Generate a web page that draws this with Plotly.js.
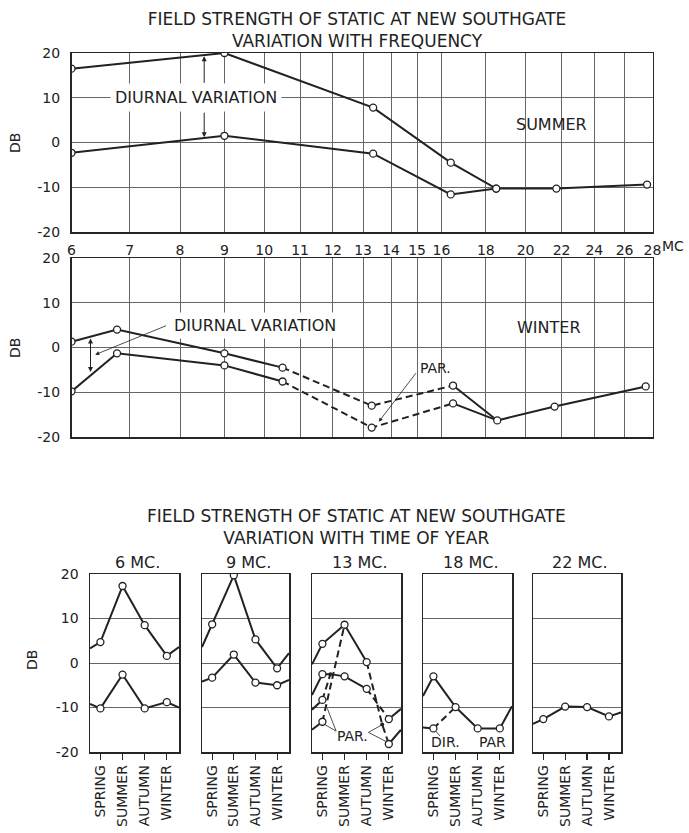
<!DOCTYPE html>
<html><head><meta charset="utf-8">
<script src="https://cdn.plot.ly/plotly-3.0.1.min.js"></script>
<style>html,body{margin:0;padding:0;background:#fff}</style>
</head><body><div id="chart" style="width:689px;height:833px"></div>
<script>
// ---------------- DATA ----------------
const freqTicks = [6,7,8,9,10,11,12,13,14,15,16,18,20,22,24,26,28];
const dbTicks = [-20,-10,0,10,20];
const dbTickText = ['-20','-10','0','10','20'];

// Summer, field strength vs frequency (Mc, dB)
const summerUpperFreq = [6, 9, 13.35, 16.4, 18.5, 21.7, 27.6];
const summerUpperDb   = [16.5, 20, 7.8, -4.5, -10.3, -10.3, -9.4];
const summerLowerFreq = [6, 9, 13.35, 16.4, 18.5];
const summerLowerDb   = [-2.3, 1.5, -2.5, -11.6, -10.3];

// Winter
const winterUpperFreqA   = [6, 6.77, 9, 10.5];
const winterUpperDbA     = [1.3, 4.0, -1.3, -4.5];
const winterUpperFreqPar = [10.5, 13.3, 16.5];
const winterUpperDbPar   = [-4.5, -13.0, -8.5];
const winterUpperFreqB   = [16.5, 18.55, 21.6, 27.5];
const winterUpperDbB     = [-8.5, -16.3, -13.2, -8.7];
const winterLowerFreqA   = [6, 6.77, 9, 10.5];
const winterLowerDbA     = [-9.8, -1.3, -4.0, -7.6];
const winterLowerFreqPar = [10.5, 13.3, 16.5];
const winterLowerDbPar   = [-7.6, -17.9, -12.5];
const winterLowerFreqB   = [16.5, 18.55];
const winterLowerDbB     = [-12.5, -16.3];

// Variation with time of year
const seasons = ['SPRING','SUMMER','AUTUMN','WINTER'];
const seasonPos = [0,1,2,3];
const EDGE_L = -0.47, EDGE_R = 3.55;   // panel edges in season units
const panelTitles = ['6 MC.','9 MC.','13 MC.','18 MC.','22 MC.'];

const mc6Upper = [4.7, 17.3, 8.5, 1.6];     const mc6UpperEdge = [3.3, 3.6];
const mc6Lower = [-10.2, -2.6, -10.2, -8.8]; const mc6LowerEdge = [-9.2, -10.0];
const mc9Upper = [8.7, 19.7, 5.3, -1.2];    const mc9UpperEdge = [3.6, 2.2];
const mc9Lower = [-3.3, 1.9, -4.4, -5.0];   const mc9LowerEdge = [-4.2, -3.8];

// 13 Mc (solid = measured, dashed = PAR.)
const mc13SolidAPos = [EDGE_L, 0, 1, 2];        const mc13SolidADb = [-0.3, 4.3, 8.6, 0.2];
const mc13SolidBPos = [EDGE_L, 0, 0.36, 1, 2];  const mc13SolidBDb = [-7.2, -2.5, -2.5, -3.0, -5.8];
const mc13SolidCPos = [EDGE_L, 0];              const mc13SolidCDb = [-10.5, -8.3];
const mc13SolidDPos = [EDGE_L, 0];              const mc13SolidDDb = [-15.0, -13.2];
const mc13SolidEPos = [3, EDGE_R];              const mc13SolidEDb = [-12.6, -10.3];
const mc13SolidFPos = [3, EDGE_R];              const mc13SolidFDb = [-18.2, -15.0];
const mc13DashAPos = [0, 1];                    const mc13DashADb = [-13.2, 8.6];
const mc13DashBPos = [0, 0.36];                 const mc13DashBDb = [-8.3, -2.5];
const mc13DashCPos = [2, 2.7, 3];               const mc13DashCDb = [0.2, -13.8, -18.2];
const mc13DashDPos = [2, 3];                    const mc13DashDDb = [-5.8, -12.6];
const mc13CirclePos = [0, 1, 2, 0, 1, 2, 0, 0, 3, 3];
const mc13CircleDb  = [4.3, 8.6, 0.2, -2.5, -3.0, -5.8, -8.3, -13.2, -12.6, -18.2];
const mc13DotPos = [0.36, 2.7];                 const mc13DotDb = [-2.5, -13.8];

// 18 Mc
const mc18Solid = [-3.0, -9.9, -14.7, -14.7];   const mc18SolidEdge = [-7.4, -9.7];
const mc18DirPos = [EDGE_L, 0];                 const mc18DirDb = [-14.5, -14.7];
const mc18DashPos = [0, 1];                     const mc18DashDb = [-14.7, -9.9];

// 22 Mc
const mc22 = [-12.6, -9.8, -9.9, -12.0];        const mc22Edge = [-13.7, -11.1];

// ---------------- STYLE / LAYOUT ----------------
const W = 689, H = 833;
const FONT = 'DejaVu Sans';
const INK = '#222222', GRID = '#666666', FRAME = '#262626';
const px = v => v / W, py = v => 1 - v / H;
const L10 = Math.log10;

const traces = [];
function lineTrace(x, y, xa, ya, dash) {
  traces.push({x, y, xaxis: xa, yaxis: ya, mode: 'lines', hoverinfo: 'skip', showlegend: false,
    line: {color: INK, width: 2, dash: dash ? '7px,4px' : 'solid'}});
}
function circleTrace(x, y, xa, ya) {
  traces.push({x, y, xaxis: xa, yaxis: ya, mode: 'markers', hoverinfo: 'skip', showlegend: false,
    marker: {symbol: 'circle', size: 7, color: '#fff', line: {color: INK, width: 1.3}}});
}
function dotTrace(x, y, xa, ya) {
  traces.push({x, y, xaxis: xa, yaxis: ya, mode: 'markers', hoverinfo: 'skip', showlegend: false,
    marker: {symbol: 'circle', size: 4, color: INK}});
}
function seasonLine(vals, edge, xa, ya) {
  lineTrace([EDGE_L, ...seasonPos, EDGE_R], [edge[0], ...vals, edge[1]], xa, ya, false);
}

// top: summer
lineTrace(summerUpperFreq, summerUpperDb, 'x', 'y');
lineTrace(summerLowerFreq, summerLowerDb, 'x', 'y');
circleTrace(summerUpperFreq, summerUpperDb, 'x', 'y');
circleTrace(summerLowerFreq, summerLowerDb, 'x', 'y');
// middle: winter
lineTrace(winterUpperFreqA, winterUpperDbA, 'x2', 'y2');
lineTrace(winterUpperFreqPar, winterUpperDbPar, 'x2', 'y2', true);
lineTrace(winterUpperFreqB, winterUpperDbB, 'x2', 'y2');
lineTrace(winterLowerFreqA, winterLowerDbA, 'x2', 'y2');
lineTrace(winterLowerFreqPar, winterLowerDbPar, 'x2', 'y2', true);
lineTrace(winterLowerFreqB, winterLowerDbB, 'x2', 'y2');
circleTrace([...winterUpperFreqA, ...winterUpperFreqPar.slice(1), ...winterUpperFreqB.slice(1)],
            [...winterUpperDbA, ...winterUpperDbPar.slice(1), ...winterUpperDbB.slice(1)], 'x2', 'y2');
circleTrace([...winterLowerFreqA, ...winterLowerFreqPar.slice(1)],
            [...winterLowerDbA, ...winterLowerDbPar.slice(1)], 'x2', 'y2');

// 6 Mc
seasonLine(mc6Upper, mc6UpperEdge, 'x3', 'y3');
seasonLine(mc6Lower, mc6LowerEdge, 'x3', 'y3');
circleTrace(seasonPos, mc6Upper, 'x3', 'y3');
circleTrace(seasonPos, mc6Lower, 'x3', 'y3');
// 9 Mc
seasonLine(mc9Upper, mc9UpperEdge, 'x4', 'y4');
seasonLine(mc9Lower, mc9LowerEdge, 'x4', 'y4');
circleTrace(seasonPos, mc9Upper, 'x4', 'y4');
circleTrace(seasonPos, mc9Lower, 'x4', 'y4');
// 13 Mc
lineTrace(mc13SolidAPos, mc13SolidADb, 'x5', 'y5');
lineTrace(mc13SolidBPos, mc13SolidBDb, 'x5', 'y5');
lineTrace(mc13SolidCPos, mc13SolidCDb, 'x5', 'y5');
lineTrace(mc13SolidDPos, mc13SolidDDb, 'x5', 'y5');
lineTrace(mc13SolidEPos, mc13SolidEDb, 'x5', 'y5');
lineTrace(mc13SolidFPos, mc13SolidFDb, 'x5', 'y5');
lineTrace(mc13DashAPos, mc13DashADb, 'x5', 'y5', true);
lineTrace(mc13DashBPos, mc13DashBDb, 'x5', 'y5', true);
lineTrace(mc13DashCPos, mc13DashCDb, 'x5', 'y5', true);
lineTrace(mc13DashDPos, mc13DashDDb, 'x5', 'y5', true);
circleTrace(mc13CirclePos, mc13CircleDb, 'x5', 'y5');
dotTrace(mc13DotPos, mc13DotDb, 'x5', 'y5');
// 18 Mc
seasonLine(mc18Solid, mc18SolidEdge, 'x6', 'y6');
lineTrace(mc18DirPos, mc18DirDb, 'x6', 'y6');
lineTrace(mc18DashPos, mc18DashDb, 'x6', 'y6', true);
circleTrace([...seasonPos, 0], [...mc18Solid, mc18DashDb[0]], 'x6', 'y6');
// 22 Mc
seasonLine(mc22, mc22Edge, 'x7', 'y7');
circleTrace(seasonPos, mc22, 'x7', 'y7');

const tickFont = {family: FONT, size: 14, color: INK};
const freqDomain = [px(71.5), px(652.5)];
function freqAxis(yAnchor, showLabels) {
  return {domain: freqDomain, type: 'log', range: [L10(6), L10(28)], anchor: yAnchor,
    tickmode: 'array', tickvals: freqTicks, ticktext: freqTicks.map(String),
    showticklabels: showLabels, ticks: '', ticklabelstandoff: 5, tickfont: tickFont,
    showgrid: true, gridcolor: GRID, gridwidth: 1, zeroline: false,
    showline: true, mirror: true, linecolor: FRAME, linewidth: 1.5, fixedrange: true};
}
function dbAxis(domain, xAnchor, showLabels) {
  return {domain, range: [-20, 20], anchor: xAnchor, tickmode: 'array', tickvals: dbTicks,
    ticktext: dbTickText, showticklabels: showLabels, ticks: '', ticklabelstandoff: 7,
    tickfont: tickFont, showgrid: true, gridcolor: GRID, gridwidth: 1, zeroline: false,
    showline: true, mirror: true, linecolor: FRAME, linewidth: 1.5, fixedrange: true};
}
const panelX = [[90,179],[202,289],[312,401],[423,512],[533,621]];
const smallY = [py(752), py(574)];

const layout = {
  width: W, height: H, autosize: false, margin: {l: 0, r: 0, t: 0, b: 0},
  paper_bgcolor: '#fff', plot_bgcolor: '#fff', showlegend: false,
  font: {family: FONT, color: INK},
  title: {text: 'FIELD STRENGTH OF STATIC AT NEW SOUTHGATE<br>VARIATION WITH FREQUENCY',
          x: px(357), xanchor: 'center', xref: 'container', y: py(25), yanchor: 'middle', yref: 'container',
          font: {family: FONT, size: 17, color: INK}},
  xaxis: freqAxis('y', true),
  yaxis: dbAxis([py(232), py(53)], 'x', true),
  xaxis2: freqAxis('y2', false),
  yaxis2: dbAxis([py(437), py(258)], 'x2', true),
  annotations: [], shapes: []
};

const A = layout.annotations;
const txt = (o) => Object.assign({showarrow: false, xanchor: 'center', yanchor: 'middle',
  font: {family: FONT, size: 16, color: INK}}, o);
const arrow = (o) => Object.assign({text: '', showarrow: true, arrowhead: 2, arrowsize: 1,
  arrowwidth: 1, arrowcolor: INK, axref: o.xref, ayref: o.yref}, o);

panelX.forEach((d, i) => {
  const n = i + 3;
  layout['xaxis' + n] = {domain: [px(d[0]), px(d[1])], range: [EDGE_L, EDGE_R], anchor: 'y' + n,
    tickmode: 'array', tickvals: seasonPos, ticktext: seasons, tickangle: -90,
    ticks: 'outside', ticklen: 6, tickcolor: FRAME, tickwidth: 1.2, tickfont: tickFont,
    showgrid: false, zeroline: false, showline: true, mirror: true, linecolor: FRAME, linewidth: 1.5,
    fixedrange: true};
  layout['yaxis' + n] = dbAxis(smallY, 'x' + n, i === 0);
  A.push(txt({xref: 'paper', yref: 'paper', x: px((d[0] + d[1]) / 2 + 3), y: py(562),
    text: panelTitles[i]}));
});

// summer
A.push(arrow({xref: 'x', yref: 'y', x: L10(8.53), y: 19.3, ax: L10(8.53), ay: 13}));
A.push(arrow({xref: 'x', yref: 'y', x: L10(8.53), y: 1.2, ax: L10(8.53), ay: 7}));
A.push(txt({xref: 'x', yref: 'y', x: L10(8.35), y: 10, text: 'DIURNAL VARIATION', bgcolor: '#fff', borderpad: 4}));
A.push(txt({xref: 'x', yref: 'y', x: L10(21.45), y: 4.0, text: 'SUMMER'}));
// winter
A.push(txt({xref: 'x2', yref: 'y2', x: L10(9.76), y: 5, text: 'DIURNAL VARIATION', bgcolor: '#fff', borderpad: 3}));
A.push(arrow({xref: 'x2', yref: 'y2', x: L10(6.39), y: -1.6, ax: L10(7.74), ay: 5.0, arrowwidth: 0.8}));
A.push(arrow({xref: 'x2', yref: 'y2', x: L10(6.31), y: 2.0, ax: L10(6.31), ay: -5.8, arrowside: 'end+start'}));
A.push(txt({xref: 'x2', yref: 'y2', x: L10(21.3), y: 4.5, text: 'WINTER'}));
A.push(txt({xref: 'x2', yref: 'y2', x: L10(15.75), y: -4.5, text: 'PAR.', font: {family: FONT, size: 14, color: INK}}));
A.push(arrow({xref: 'x2', yref: 'y2', x: L10(13.55), y: -16.6, ax: L10(15.0), ay: -5.4, arrowwidth: 0.8}));
// MC unit
A.push(txt({xref: 'paper', yref: 'paper', x: px(660), y: py(246), xanchor: 'left', text: 'MC', font: {family: FONT, size: 14, color: INK}}));
// DB labels
[[15, 143], [15, 348], [32, 660]].forEach(p => A.push(txt({xref: 'paper', yref: 'paper', x: px(p[0]), y: py(p[1]),
  text: 'DB', textangle: -90, font: {family: FONT, size: 14, color: INK}})));
// bottom title
A.push(txt({xref: 'paper', yref: 'paper', x: px(356), y: py(527), text: 'FIELD STRENGTH OF STATIC AT NEW SOUTHGATE<br>VARIATION WITH TIME OF YEAR', font: {family: FONT, size: 17, color: INK}}));
// 13 Mc PAR.
A.push(txt({xref: 'x5', yref: 'y5', x: 1.36, y: -16.3, text: 'PAR.', font: {family: FONT, size: 14, color: INK}}));
// 18 Mc DIR. / PAR
A.push(txt({xref: 'x6', yref: 'y6', x: 0.55, y: -17.8, text: 'DIR.', font: {family: FONT, size: 14, color: INK}}));
A.push(txt({xref: 'x6', yref: 'y6', x: 2.68, y: -17.8, text: 'PAR', font: {family: FONT, size: 14, color: INK}}));

const lead = (xr, yr, x0, y0, x1, y1) => layout.shapes.push({type: 'line', xref: xr, yref: yr,
  x0, y0, x1, y1, line: {color: INK, width: 0.8}});
lead('x5', 'y5', 0.62, -15.3, 0.06, -13.7);
lead('x5', 'y5', 0.62, -15.3, 0.22, -10.2);
lead('x5', 'y5', 2.08, -15.6, 2.65, -14.0);
lead('x5', 'y5', 2.08, -15.6, 2.9, -17.7);
lead('x6', 'y6', 0.3, -16.4, 0.1, -15.3);

Plotly.newPlot('chart', traces, layout, {staticPlot: true, displayModeBar: false});
</script></body></html>
